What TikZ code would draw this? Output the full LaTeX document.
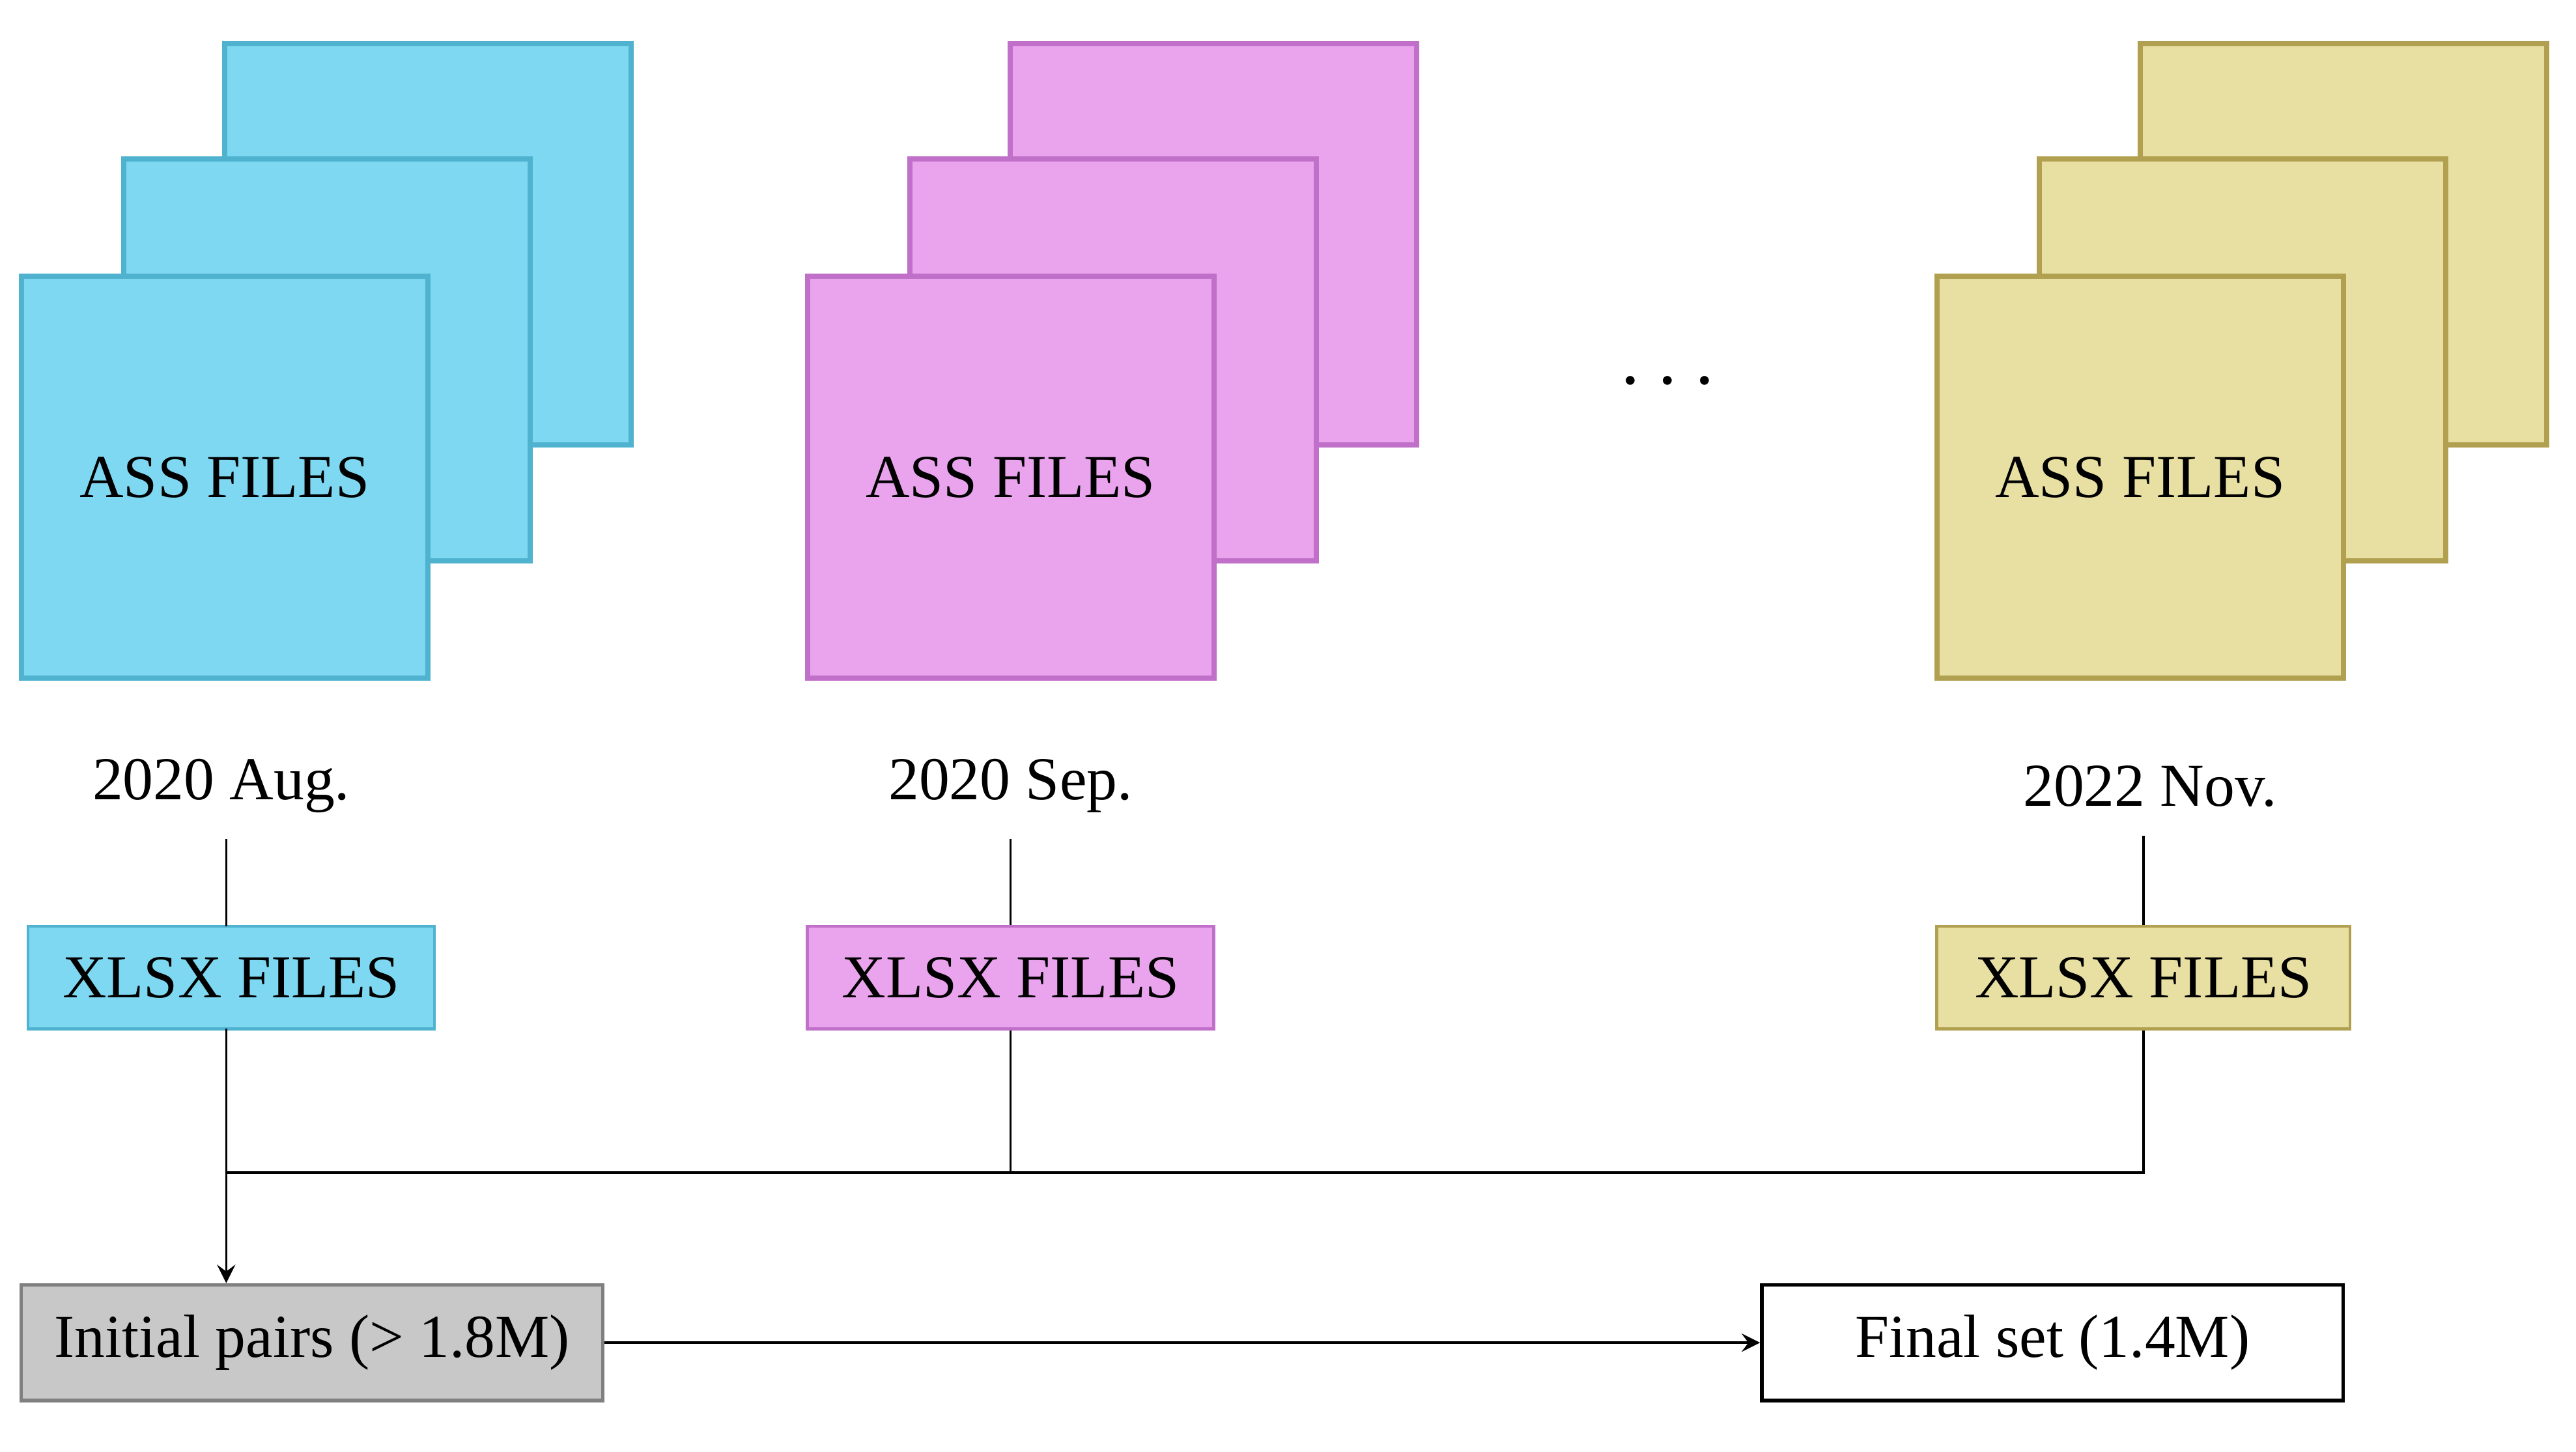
\documentclass[tikz,border=0pt]{standalone}
\usepackage{fontspec}
\setmainfont{Liberation Serif}
\usepackage{xcolor}
\usetikzlibrary{arrows,positioning}
\definecolor{cyanfill}{HTML}{7FD8F2}
\definecolor{cyanline}{HTML}{4FB3D0}
\definecolor{pinkfill}{HTML}{EAA4EE}
\definecolor{pinkline}{HTML}{C070C8}
\definecolor{sandfill}{HTML}{E8DFA3}
\definecolor{sandline}{HTML}{B0A050}
\definecolor{grayfill}{HTML}{C8C8C8}

\begin{document}
\begin{tikzpicture}[
    x=0.01cm, y=-0.01cm,
    font=\fontsize{10.5}{12}\selectfont,
    sheet/.style={rectangle, draw, line width=0.9pt, minimum width=2.46cm, minimum height=2.43cm},
    xlsx/.style={rectangle, draw, line width=0.5pt, minimum width=2.46cm, minimum height=0.62cm},
    result/.style={rectangle, draw, line width=0.6pt, minimum width=3.52cm, minimum height=0.70cm},
    arrow/.style={thin,->,>=stealth}
]
\useasboundingbox (0,0) rectangle (1560,879);

% File stacks
\foreach \name/\cx/\fc/\lc in {aug/136/cyanfill/cyanline, sep/612/pinkfill/pinkline, nov/1296/sandfill/sandline} {
  \node[sheet, fill=\fc, draw=\lc] (\name back) at (\cx+123,148) {};
  \node[sheet, fill=\fc, draw=\lc] (\name mid) at (\cx+62,218) {};
  \node[sheet, fill=\fc, draw=\lc] (\name front) at (\cx,289) {ASS FILES};
}

\node (dots) at (1010,232) {\Large\textbf{$\cdots$}};

% Month labels
\node (augdate) at (134,476) {2020 Aug.};
\node (sepdate) at (612,476) {2020 Sep.};
\node (novdate) at (1302,476) {2022 Nov.};

% Spreadsheets
\node[xlsx, fill=cyanfill, draw=cyanline] (augxlsx) at (140,592) {XLSX FILES};
\node[xlsx, fill=pinkfill, draw=pinkline] (sepxlsx) at (612,592) {XLSX FILES};
\node[xlsx, fill=sandfill, draw=sandline, minimum width=2.5cm] (novxlsx) at (1298,592) {XLSX FILES};

% Results
\node[result, fill=grayfill, draw=gray] (initial) at (189,813) {Initial pairs (> 1.8M)};
\node[result, fill=white, draw=black] (final) at (1243,813) {Final set (1.4M)};

\coordinate (merge) at (137,710);

% Connectors
\draw (137,508) -- (137,561);
\draw (612,508) -- (sepxlsx.north);
\draw (1298,506) -- (novxlsx.north);
\draw (137,623) -- (merge);
\draw (sepxlsx.south) -- (612,710);
\draw (novxlsx.south) -- (1298,710) -- (merge);
\draw[arrow] (merge) -- (initial.north -| merge);
\draw[arrow] (initial) -- (final);

\end{tikzpicture}
\end{document}
